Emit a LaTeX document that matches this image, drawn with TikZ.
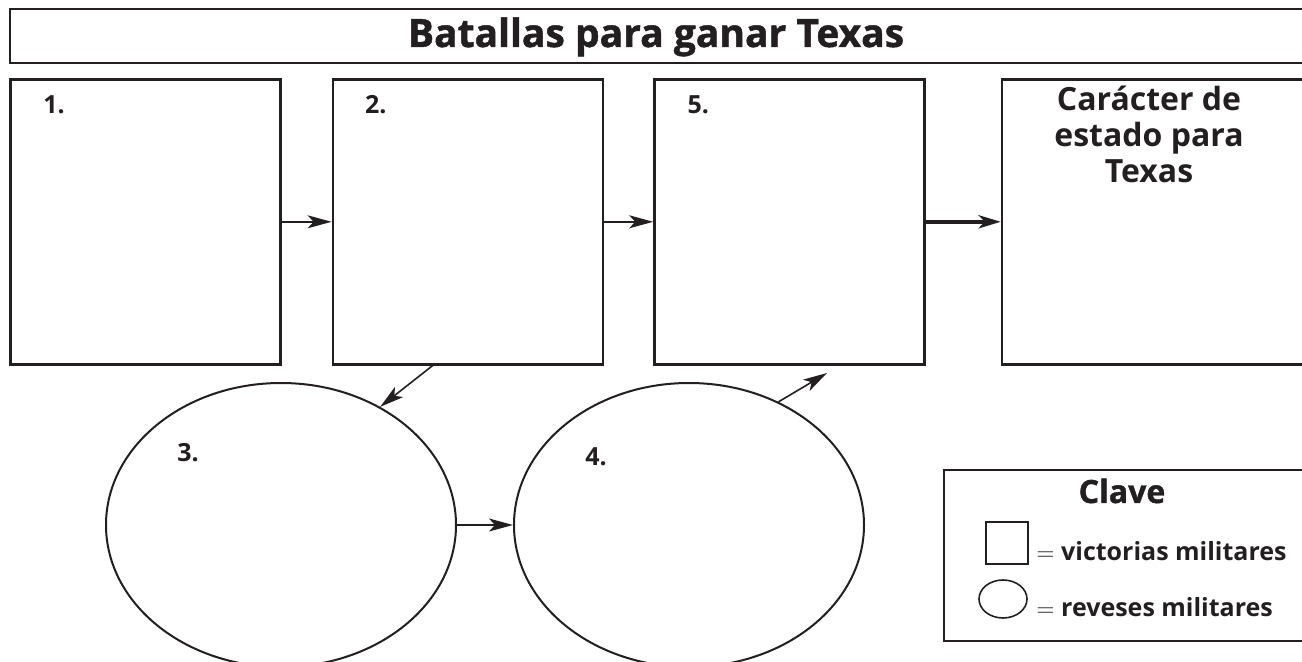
\documentclass[tikz,border=0pt]{standalone}
\usepackage{fontspec}
\setmainfont{Open Sans}
\newfontfamily\heavyfont{Open Sans}[BoldFeatures={FakeBold=1.2}]
\usepackage{xcolor}
\usetikzlibrary{arrows.meta,positioning,calc,shapes.geometric}
\definecolor{ink}{HTML}{231F20}

\begin{document}
\begin{tikzpicture}[
  x=0.5pt,y=-0.5pt,
  node distance=25pt,
  panel/.style={draw=ink,line width=1.3pt,minimum width=135pt,minimum height=142.5pt,inner sep=0pt},
  oval/.style={ellipse,draw=ink,line width=1pt,minimum width=175pt,minimum height=142pt,inner sep=0pt},
  num/.style={font=\bfseries\fontsize{12.5}{12.5}\selectfont,text=ink,inner sep=0pt,anchor=north west},
  keytxt/.style={font=\bfseries\fontsize{12.5}{12.5}\selectfont,text=ink,inner sep=0pt,anchor=base west},
  arrow/.style={-{Stealth[length=12pt,width=6.5pt,inset=3pt]},draw=ink,line width=0.8pt},
  bigarrow/.style={-{Stealth[length=11pt,width=6.5pt,inset=3pt]},draw=ink,line width=2pt}
]
  \useasboundingbox (0,0) rectangle (1302,662);
  \node[draw=ink,line width=1pt,anchor=north west,minimum width=647pt,minimum height=27pt,inner sep=0pt] (title) at (9,8) {};
  \node[font=\heavyfont\bfseries\fontsize{19.5}{19.5}\selectfont,text=ink,inner sep=0pt,anchor=base] (titletxt) at (656,47) {Batallas para ganar Texas};

  \node[panel,anchor=north west] (b1) at (9,78) {};
  \node[panel,right=of b1] (b2) {};
  \node[panel,right=24.5pt of b2] (b5) {};
  \node[panel,right=37.5pt of b5,minimum width=154pt] (b4) {};
  \node[num] (n1) at ($(b1.north west)+(34,17)$) {1.};
  \node[num] (n2) at ($(b2.north west)+(33,17)$) {2.};
  \node[num] (n5) at ($(b5.north west)+(34,17)$) {5.};
  \node[font=\bfseries\fontsize{16}{16}\selectfont,text=ink,align=center,inner sep=0pt,anchor=north] (chartxt) at (1149,86) {Carácter de\\[2pt]estado para\\[2pt]Texas};

  \node[oval] (ell3) at (281,525) {};
  \node[oval,right=28pt of ell3] (ell4) {};
  \node[num] (n3) at ($(ell3.center)+(-104,-82)$) {3.};
  \node[num] (n4) at ($(ell4.center)+(-104,-78)$) {4.};
  \coordinate (tip4) at (827,373);

  \draw[arrow] (b1) -- (b2);
  \draw[arrow] (b2) -- (b5);
  \draw[bigarrow] (b5) -- (b4);
  \draw[arrow] ($(b2.south west)+(101,0)$) -- (ell3.50);
  \draw[arrow] (ell3) -- (ell4);
  \draw[arrow] (ell4.54) -- (tip4);

  \node[draw=ink,line width=0.9pt,anchor=north west,minimum width=181pt,minimum height=85.5pt,inner sep=0pt] (key) at (943,469) {};
  \node[font=\heavyfont\bfseries\fontsize{16}{16}\selectfont,text=ink,inner sep=0pt,anchor=base] (keyttl) at (1122,503) {Clave};
  \node[draw=ink,line width=0.8pt,minimum size=21pt,inner sep=0pt] (keysq) at (1007,543) {};
  \node[ellipse,draw=ink,line width=0.8pt,minimum width=24pt,minimum height=19pt,inner sep=0pt] (keyov) at (1003,599) {};
  \node[keytxt] (keyv) at (1036,560) {$=$ victorias militares};
  \node[keytxt] (keyr) at (1036,617) {$=$ reveses militares};
\end{tikzpicture}
\end{document}
